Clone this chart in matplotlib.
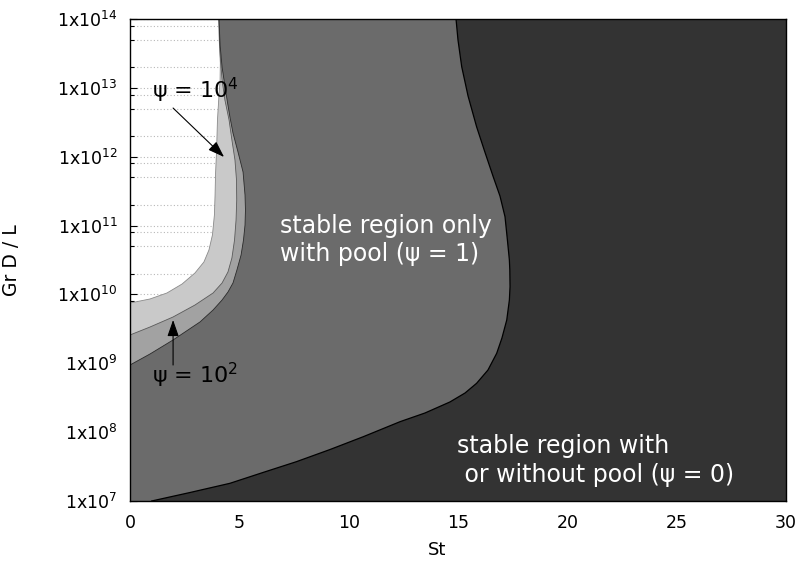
import numpy as np
import matplotlib
matplotlib.use("Agg")
import matplotlib.pyplot as plt
from matplotlib.ticker import LogLocator, FixedLocator, FuncFormatter, NullFormatter

# ---- data: stability boundaries (St, log10(Gr D / L)) ----
psi0_st = [0.99, 2.74, 4.57, 6.08, 7.61, 9.15, 10.67, 12.35, 13.49, 14.63, 15.32, 15.85,
           16.37, 16.77, 17.01, 17.23, 17.35, 17.38, 17.37, 17.35, 17.26, 17.15, 16.92,
           16.61, 16.23, 15.85, 15.46, 15.17, 15.0, 14.91]
psi0_exp = [7.0, 7.123, 7.257, 7.414, 7.571, 7.748, 7.934, 8.152, 8.278, 8.438, 8.568, 8.709,
            8.902, 9.145, 9.367, 9.629, 9.919, 10.112, 10.355, 10.5, 10.79, 11.129, 11.429,
            11.71, 12.068, 12.436, 12.882, 13.307, 13.695, 14.0]

psi1_st = [0.0, 0.915, 1.966, 3.20, 3.80, 4.21, 4.48, 4.71, 4.89, 5.08, 5.19, 5.26, 5.28,
           5.26, 5.17, 4.94, 4.71, 4.57, 4.44, 4.30, 4.21, 4.12, 4.07]
psi1_exp = [8.975, 9.135, 9.338, 9.60, 9.774, 9.919, 10.035, 10.166, 10.355, 10.573, 10.79,
            11.008, 11.226, 11.444, 11.778, 12.068, 12.344, 12.577, 12.824, 13.114, 13.303,
            13.622, 14.0]

psi100_st = [0.0, 0.915, 1.966, 2.97, 3.80, 4.21, 4.48, 4.66, 4.78, 4.85, 4.88, 4.87, 4.80,
             4.66, 4.53, 4.34, 4.21, 4.14, 4.09, 4.07]
psi100_exp = [9.411, 9.527, 9.672, 9.846, 10.021, 10.166, 10.326, 10.529, 10.79, 11.081,
              11.371, 11.662, 11.952, 12.243, 12.533, 12.824, 13.114, 13.405, 13.695, 14.0]

psi1e4_st = [0.0, 0.915, 1.69, 2.38, 2.97, 3.38, 3.61, 3.77, 3.86, 3.89, 3.91, 3.96, 4.00,
             4.07, 4.12, 4.13, 4.08, 4.06]
psi1e4_exp = [9.875, 9.934, 10.021, 10.151, 10.311, 10.471, 10.645, 10.863, 11.154, 11.444,
              11.734, 12.098, 12.533, 12.896, 13.114, 13.361, 13.695, 14.0]

x_ticks = [0, 5, 10, 15, 20, 25, 30]
y_tick_exps = [7, 8, 9, 10, 11, 12, 13, 14]

XMIN, XMAX = 0, 30
YMIN, YMAX = 1e7, 1e14

# ---- figure ----
plt.rcParams['font.family'] = ['DejaVu Sans']
fig = plt.figure(figsize=(8.03, 5.67), dpi=100)
ax = fig.add_axes([0.1619, 0.1164, 0.8169, 0.8501])
ax.set_facecolor('white')
ax.set_yscale('log')
ax.set_xlim(XMIN, XMAX)
ax.set_ylim(YMIN, YMAX)

def region(st, ex, color, z):
    y = [10 ** e for e in ex]
    if st[0] > XMIN:
        xs = [XMAX] + list(st) + [XMAX]
        ys = [YMIN] + list(y) + [YMAX]
    else:
        xs = [XMAX, XMIN] + list(st) + [XMAX]
        ys = [YMIN, YMIN] + list(y) + [YMAX]
    ax.fill(xs, ys, color=color, zorder=z, lw=0)

region(psi1e4_st, psi1e4_exp, '#c9c9c9', 1.0)
region(psi100_st, psi100_exp, '#a2a2a2', 1.1)
region(psi1_st, psi1_exp, '#6b6b6b', 1.2)
region(psi0_st, psi0_exp, '#333333', 1.3)

ax.plot(psi1e4_st, [10 ** e for e in psi1e4_exp], color='#8a8a8a', lw=0.6, zorder=2)
ax.plot(psi100_st, [10 ** e for e in psi100_exp], color='#5a5a5a', lw=0.6, zorder=2)
ax.plot(psi1_st, [10 ** e for e in psi1_exp], color='#2a2a2a', lw=0.6, zorder=2)
ax.plot(psi0_st, [10 ** e for e in psi0_exp], color='black', lw=0.9, zorder=2)

# axes, ticks, grid
ax.set_axisbelow(True)
ax.yaxis.set_major_locator(FixedLocator([10.0 ** e for e in y_tick_exps]))
ax.yaxis.set_minor_locator(LogLocator(base=10, subs=[2, 5, 8], numticks=20))
ax.yaxis.set_major_formatter(FuncFormatter(lambda v, p: '1x10$^{%d}$' % round(np.log10(v))))
ax.yaxis.set_minor_formatter(NullFormatter())
ax.set_xticks(x_ticks)
ax.set_xticklabels([str(t) for t in x_ticks])
ax.yaxis.grid(True, which='both', linestyle=(0, (1, 2)), color='#b8b8b8', lw=0.8)
ax.tick_params(axis='y', which='major', direction='in', length=5, width=0.8, pad=9,
               labelsize=12.5)
ax.tick_params(axis='y', which='minor', direction='in', length=3, width=0.8)
ax.tick_params(axis='x', which='major', direction='in', length=0, pad=9.5, labelsize=12.5)
for s in ax.spines.values():
    s.set_linewidth(1.0)
    s.set_color('black')
    s.set_zorder(3)

ax.set_xlabel('St', fontsize=13)
ax.set_ylabel('Gr D / L', fontsize=13.5)
ax.xaxis.set_label_coords(0.468, -0.082)
ax.yaxis.set_label_coords(-0.166, 0.5)

# annotations
arrow = dict(arrowstyle='-|>,head_length=1.0,head_width=0.35', color='black', lw=0.8,
             shrinkA=0, shrinkB=0)
ax.text(0.0335, 0.836, 'ψ = 10$^4$', transform=ax.transAxes, fontsize=16,
        ha='left', va='baseline', zorder=4)
ax.annotate('', xy=(4.3, 10 ** 11.996), xytext=(1.97, 10 ** 12.707), arrowprops=arrow, zorder=4)
ax.text(0.0335, 0.245, 'ψ = 10$^2$', transform=ax.transAxes, fontsize=16,
        ha='left', va='baseline', zorder=4)
ax.annotate('', xy=(1.97, 10 ** 9.629), xytext=(1.97, 10 ** 8.975), arrowprops=arrow, zorder=4)

ax.text(0.2287, 0.596, 'stable region only\nwith pool (ψ = 1)', transform=ax.transAxes,
        fontsize=17, color='white', ha='left', va='top', linespacing=1.22, zorder=4)
ax.text(0.4985, 0.14, 'stable region with\n or without pool (ψ = 0)', transform=ax.transAxes,
        fontsize=17, color='white', ha='left', va='top', linespacing=1.3, zorder=4)

fig.savefig('out.png', dpi=100)
